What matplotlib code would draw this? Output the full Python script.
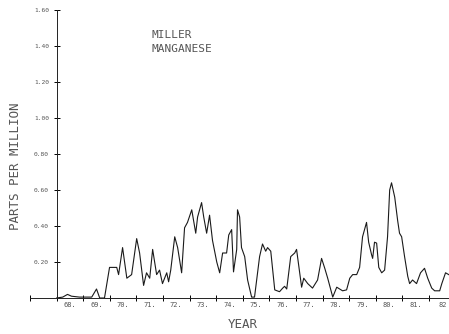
import matplotlib
matplotlib.use('Agg')
import matplotlib.pyplot as plt

# --- Data (decimal year, ppm) ---
years = [68.00, 68.23, 68.41, 68.56, 68.86, 69.32, 69.50, 69.62, 69.80, 69.99,
         70.26, 70.33, 70.48, 70.64, 70.82, 71.01, 71.12, 71.27, 71.38, 71.50,
         71.61, 71.76, 71.87, 71.98, 72.14, 72.21, 72.29, 72.44, 72.55, 72.70,
         72.81, 72.92, 73.08, 73.23, 73.30, 73.45, 73.53, 73.64, 73.75, 73.86,
         74.02, 74.13, 74.24, 74.39, 74.47, 74.58, 74.65, 74.77, 74.80, 74.88,
         74.95, 75.07, 75.18, 75.33, 75.44, 75.63, 75.74, 75.86, 75.93, 76.05,
         76.20, 76.38, 76.50, 76.57, 76.65, 76.80, 76.95, 77.02, 77.21, 77.29,
         77.44, 77.62, 77.81, 77.96, 78.08, 78.19, 78.38, 78.53, 78.64, 78.75,
         78.90, 79.02, 79.13, 79.28, 79.39, 79.50, 79.65, 79.73, 79.84, 79.88,
         79.95, 80.03, 80.11, 80.22, 80.33, 80.44, 80.52, 80.59, 80.71, 80.82,
         80.89, 80.97, 81.08, 81.20, 81.27, 81.38, 81.53, 81.68, 81.83, 81.95,
         82.10, 82.21, 82.40, 82.48, 82.62, 82.74]
ppm = [0.000, 0.005, 0.020, 0.010, 0.005, 0.005, 0.050, 0.000, 0.000, 0.170,
       0.170, 0.130, 0.280, 0.110, 0.130, 0.330, 0.250, 0.070, 0.140, 0.110,
       0.270, 0.130, 0.155, 0.080, 0.140, 0.090, 0.155, 0.340, 0.280, 0.140,
       0.390, 0.420, 0.490, 0.360, 0.450, 0.530, 0.450, 0.360, 0.460, 0.320,
       0.200, 0.140, 0.250, 0.250, 0.350, 0.380, 0.145, 0.270, 0.490, 0.450,
       0.280, 0.230, 0.100, 0.005, 0.005, 0.230, 0.300, 0.260, 0.280, 0.260,
       0.045, 0.035, 0.055, 0.065, 0.050, 0.230, 0.250, 0.270, 0.060, 0.110,
       0.080, 0.055, 0.100, 0.220, 0.165, 0.110, 0.005, 0.060, 0.050, 0.040,
       0.045, 0.110, 0.130, 0.130, 0.170, 0.340, 0.420, 0.310, 0.240, 0.220,
       0.310, 0.305, 0.170, 0.140, 0.155, 0.340, 0.600, 0.640, 0.560, 0.430,
       0.360, 0.340, 0.230, 0.120, 0.080, 0.100, 0.080, 0.140, 0.165, 0.110,
       0.055, 0.040, 0.040, 0.080, 0.140, 0.130]

y_ticks = [0.2, 0.4, 0.6, 0.8, 1.0, 1.2, 1.4, 1.6]
y_labels = ['0.20', '0.40', '0.60', '0.80', '1.00', '1.20', '1.40', '1.60']
year_ticks = list(range(67, 83))
year_labels = ['68.', '69.', '70.', '71.', '72.', '73.', '74.', '75.',
               '76.', '77.', '78.', '79.', '80.', '81.', '82']

GRAY = '#555555'
MONO = 'DejaVu Sans Mono'

fig = plt.figure(figsize=(4.49, 3.34), dpi=100)
ax = fig.add_axes([30 / 449, 36 / 334, 419 / 449, 288 / 334])

ax.plot(years, ppm, color='#1a1a1a', linewidth=0.8)

ax.set_xlim(67.0, 82.75)
ax.set_ylim(0, 1.6)

for side in ('top', 'right'):
    ax.spines[side].set_visible(False)
ax.spines['left'].set_position(('data', 68))
for side in ('left', 'bottom'):
    ax.spines[side].set_linestyle((0, (3, 1)))
    ax.spines[side].set_linewidth(0.7)
    ax.spines[side].set_color('#222222')

ax.set_yticks(y_ticks)
ax.set_yticklabels(y_labels, family=MONO, fontsize=4.5, color=GRAY)
ax.tick_params(axis='y', direction='inout', length=5, width=0.7, pad=3)

ax.set_xticks(year_ticks)
ax.set_xticklabels([])
ax.set_xticks([y + 0.5 for y in range(68, 83)], minor=True)
ax.set_xticklabels(year_labels, minor=True, family=MONO, fontsize=5, color=GRAY)
ax.tick_params(axis='x', which='major', direction='inout', length=4, width=0.7)
ax.tick_params(axis='x', which='minor', length=0, pad=3)

ax.set_xlabel('YEAR', family=MONO, fontsize=9, color=GRAY)
ax.xaxis.set_label_coords(0.508, -0.07)
ax.set_ylabel('PARTS PER MILLION', family=MONO, fontsize=9, color=GRAY)
ax.yaxis.set_label_coords(-0.02, 0.458)

ax.text(0.29, 0.903, 'MILLER', transform=ax.transAxes, family=MONO,
        fontsize=8, color=GRAY)
ax.text(0.29, 0.854, 'MANGANESE', transform=ax.transAxes, family=MONO,
        fontsize=8, color=GRAY)

fig.savefig('out.png', dpi=100)
